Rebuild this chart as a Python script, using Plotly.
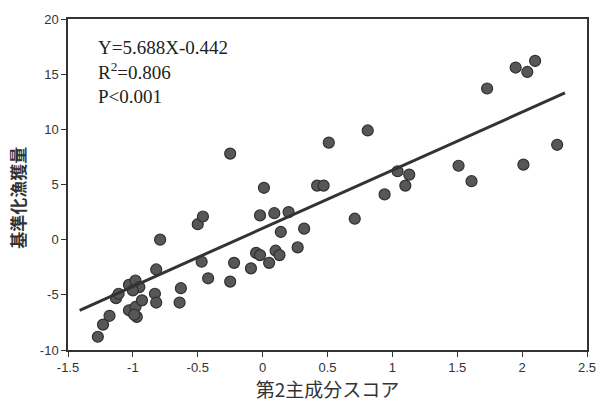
import plotly.graph_objects as go

# PCA 2nd component score (x) vs standardized catch (y)
x_score = [-1.27, -1.23, -1.18, -1.13, -1.11, -1.03, -0.98, -0.95, -1.00, -1.03,
           -0.98, -0.97, -0.93, -0.99, -0.82, -0.83, -0.82, -0.79, -0.63, -0.64,
           -0.47, -0.42, -0.50, -0.46, -0.25, -0.22, -0.25, -0.09, -0.05, -0.02,
           0.01, -0.02, 0.05, 0.09, 0.10, 0.13, 0.14, 0.20, 0.27, 0.32,
           0.42, 0.47, 0.51, 0.71, 0.81, 0.94, 1.04, 1.10, 1.13, 1.51,
           1.61, 1.73, 1.95, 2.04, 2.10, 2.01, 2.27]
y_catch = [-8.8, -7.7, -6.9, -5.3, -4.9, -4.1, -3.7, -4.3, -4.6, -6.4,
           -6.1, -7.0, -5.5, -6.8, -2.7, -4.9, -5.7, 0.0, -4.4, -5.7,
           -2.0, -3.5, 1.4, 2.1, 7.8, -2.1, -3.8, -2.6, -1.2, -1.4,
           4.7, 2.2, -2.1, 2.4, -1.0, -1.4, 0.7, 2.5, -0.7, 1.0,
           4.9, 4.9, 8.8, 1.9, 9.9, 4.1, 6.2, 4.9, 5.9, 6.7,
           5.3, 13.7, 15.6, 15.2, 16.2, 6.8, 8.6]

# regression line as drawn
line_x = [-1.41, 2.33]
line_y = [-6.4, 13.3]

x_ticks = [-1.5, -1, -0.5, 0, 0.5, 1, 1.5, 2, 2.5]
x_tick_labels = ["-1.5", "-1", "-0.5", "0", "0.5", "1", "1.5", "2", "2.5"]
y_ticks = [-10, -5, 0, 5, 10, 15, 20]
y_tick_labels = ["-10", "-5", "0", "5", "10", "15", "20"]

stats_text = ["Y=5.688X-0.442", "R<sup>2</sup>=0.806", "P<0.001"]

fig = go.Figure()
fig.add_trace(go.Scatter(
    x=x_score, y=y_catch, mode="markers",
    marker=dict(size=11, color="#575757", line=dict(color="#303030", width=1.2)),
    showlegend=False, hoverinfo="skip"))
fig.add_trace(go.Scatter(
    x=line_x, y=line_y, mode="lines",
    line=dict(color="#333333", width=3),
    showlegend=False, hoverinfo="skip"))

fig.add_annotation(
    x=0, y=1, xref="paper", yref="paper", xanchor="left", yanchor="top",
    xshift=28, yshift=-16,
    text="<br>".join(stats_text), showarrow=False, align="left",
    font=dict(family="Liberation Serif, DejaVu Serif, serif", size=19, color="#222222"))

# y-axis title placed slightly below plot centre as in the reference
fig.add_annotation(
    x=0, y=0.46, xref="paper", yref="paper", xanchor="center", yanchor="middle",
    xshift=-50, textangle=-90, showarrow=False,
    text="<b>基準化漁獲量</b>",
    font=dict(family="Noto Sans CJK JP", size=17, color="#333333"))

tick_font = dict(family="Liberation Sans Narrow, Liberation Sans, Arial, sans-serif",
                 size=13, color="#333333")

fig.update_xaxes(
    range=[-1.5, 2.5], tickvals=x_ticks, ticktext=x_tick_labels,
    showgrid=False, zeroline=False, showline=True, linecolor="#333333", linewidth=1.5,
    mirror=True, ticks="outside", ticklen=5, tickcolor="#333333", tickwidth=1.2,
    tickfont=tick_font,
    title=dict(text="第2主成分スコア", standoff=3,
               font=dict(family="Noto Sans CJK JP", size=19, color="#333333")))
fig.update_yaxes(
    range=[-10, 20], tickvals=y_ticks, ticktext=y_tick_labels,
    showgrid=False, zeroline=False, showline=True, linecolor="#333333", linewidth=1.5,
    mirror=True, ticks="outside", ticklen=5, tickcolor="#333333", tickwidth=1.2,
    tickfont=tick_font)

fig.update_layout(
    width=608, height=408,
    margin=dict(l=68, r=14, t=17, b=58),
    paper_bgcolor="white", plot_bgcolor="white")

fig.write_html("out.html")
